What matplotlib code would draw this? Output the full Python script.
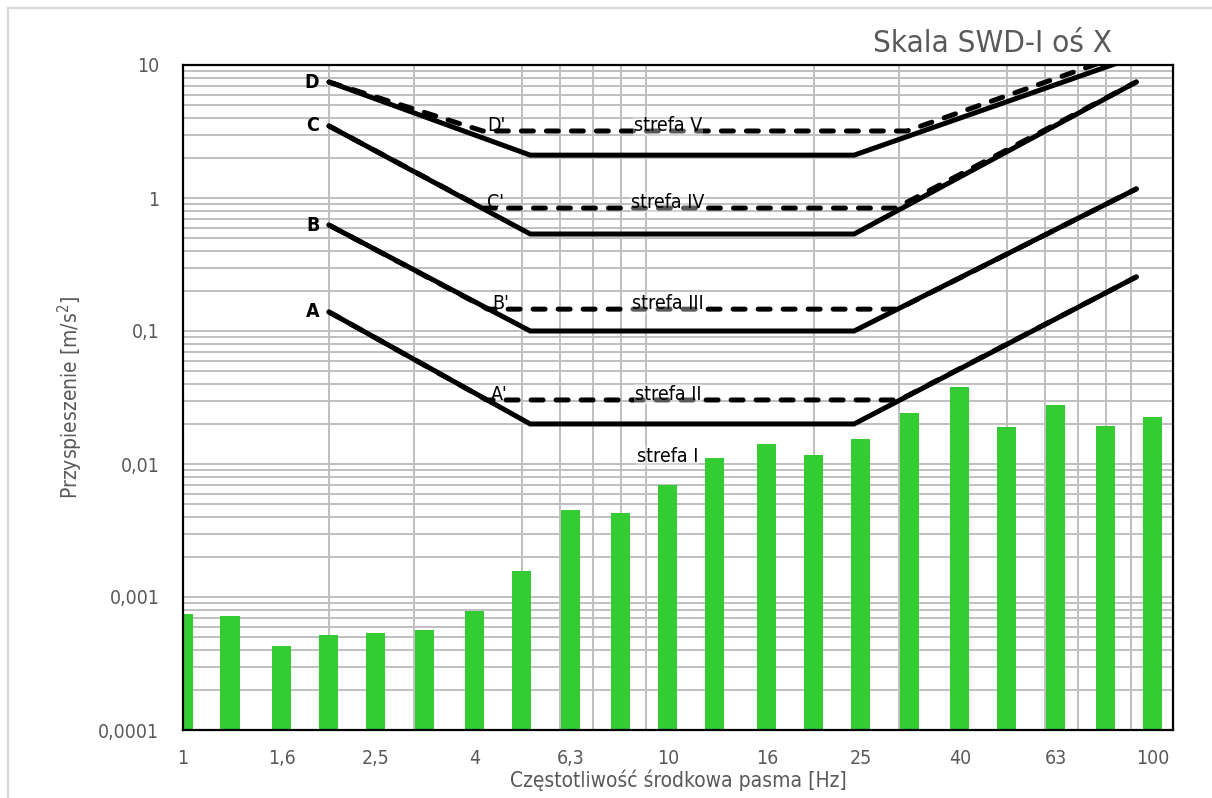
import numpy as np
import matplotlib
matplotlib.use('Agg')
import matplotlib.pyplot as plt
from matplotlib.ticker import FixedLocator, LogLocator, NullFormatter
from matplotlib.patches import Rectangle

# pasma tercjowe [Hz] i zmierzone przyspieszenia [m/s2]
pasma = [1, 1.25, 1.6, 2, 2.5, 3.15, 4, 5, 6.3, 8, 10, 12.5, 16, 20, 25, 31.5,
         40, 50, 63, 80, 100]
przyspieszenie = [7.3e-4, 7.1e-4, 4.2e-4, 5.1e-4, 5.3e-4, 5.5e-4, 7.8e-4,
                  1.57e-3, 4.5e-3, 4.3e-3, 6.9e-3, 0.0111, 0.0141, 0.0117,
                  0.0154, 0.024, 0.038, 0.0191, 0.028, 0.0194, 0.0227]
etykiety_x = ['1', '1,6', '2,5', '4', '6,3', '10', '16', '25', '40', '63', '100']
etykiety_y = ['0,0001', '0,001', '0,01', '0,1', '1', '10']

# granice stref skali SWD-I (linie ciagle)
f_granic = [2.0, 5.2, 24.2, 92.4]
granice = {
    'A': [0.139, 0.020, 0.020, 0.255],
    'B': [0.626, 0.100, 0.100, 1.17],
    'C': [3.48, 0.536, 0.536, 7.45],
    'D': [7.45, 2.10, 2.10, 11.6],
}
# granice posrednie (linie przerywane)
f_posr = {
    "A'": [2.0, 4.23, 30.0, 92.4],
    "B'": [2.0, 4.25, 29.8, 92.4],
    "C'": [2.0, 4.15, 29.5, 92.4],
    "D'": [2.0, 4.15, 31.1, 92.4],
}
posrednie = {
    "A'": [0.139, 0.0303, 0.0303, 0.255],
    "B'": [0.626, 0.146, 0.146, 1.17],
    "C'": [3.48, 0.84, 0.84, 7.45],
    "D'": [7.45, 3.19, 3.19, 12.96],
}
strefy = ['strefa I', 'strefa II', 'strefa III', 'strefa IV', 'strefa V']
strefy_y = [0.0104, 0.0303, 0.146, 0.84, 3.19]

plt.rcParams['font.family'] = ['DejaVu Sans']
plt.rcParams['font.stretch'] = 'condensed'

szary = '#595959'
fig = plt.figure(figsize=(12.12, 7.98), dpi=100)
ax = fig.add_axes([183 / 1212, 1 - 730 / 798, 990 / 1212, 665 / 798])

ax.set_xscale('log')
ax.set_yscale('log')
ax.set_xlim(1, 110)
ax.set_ylim(1e-4, 10)

# slupki o stalej szerokosci w skali logarytmicznej
k = 10 ** 0.0196
lewe = [f / k for f in pasma]
szer = [f * k - f / k for f in pasma]
ax.bar(lewe, przyspieszenie, width=szer, align='edge', bottom=1e-5,
       color='#33cc33', zorder=2)

for nazwa, y in granice.items():
    ax.plot(f_granic, y, color='black', lw=3.6, solid_capstyle='round',
            solid_joinstyle='miter', zorder=3)
    ax.annotate(nazwa, (f_granic[0], y[0]), xytext=(-7, 0),
                textcoords='offset points', ha='right', va='center',
                fontsize=14, fontweight='bold', color='black')

for nazwa, y in posrednie.items():
    ax.plot(f_posr[nazwa], y, color='black', lw=3.6, ls=(0, (2.4, 2.6)),
            dash_capstyle='round', zorder=3)
    ax.annotate(nazwa, (f_posr[nazwa][1], y[1]), xytext=(3, 0),
                textcoords='offset points', ha='left', va='baseline',
                fontsize=14, color='black', zorder=4)

for tekst, y in zip(strefy, strefy_y):
    ax.text(10, y, tekst, ha='center', va='baseline', fontsize=14,
            color='black', zorder=4,
            bbox=dict(facecolor='white', alpha=0.35, edgecolor='none', pad=0.5))

# osie i siatka
ax.xaxis.set_major_locator(FixedLocator(pasma[::2]))
ax.set_xticklabels(etykiety_x)
ax.xaxis.set_minor_locator(LogLocator(base=10, subs=np.arange(1, 10), numticks=50))
ax.xaxis.set_minor_formatter(NullFormatter())
ax.yaxis.set_major_locator(FixedLocator([1e-4, 1e-3, 1e-2, 1e-1, 1, 10]))
ax.set_yticklabels(etykiety_y)
ax.yaxis.set_minor_locator(LogLocator(base=10, subs=np.arange(2, 10), numticks=50))
ax.yaxis.set_minor_formatter(NullFormatter())
ax.tick_params(which='both', length=0, labelsize=14, labelcolor=szary)
ax.tick_params(axis='x', pad=14)
ax.tick_params(axis='y', pad=17)

ax.set_axisbelow(True)
ax.grid(which='minor', axis='x', color='#bfbfbf', lw=1.4)
ax.grid(which='both', axis='y', color='#bfbfbf', lw=1.4)
for s in ax.spines.values():
    s.set_color('black')
    s.set_linewidth(1.6)

ax.set_xlabel('Częstotliwość środkowa pasma [Hz]', fontsize=15, color=szary,
              labelpad=1)
ax.set_ylabel('Przyspieszenie [m/s$^2$]', fontsize=15, color=szary)
ax.yaxis.label.set_va('center')
ax.yaxis.set_label_coords((70 - 183) / 990, 0.5)

fig.text(993 / 1212, 1 - 43 / 798, 'Skala SWD-I oś X', fontsize=22.5,
         color=szary, ha='center', va='center')

fig.patches.append(Rectangle((8 / 1212, -0.1), 1.2, 1 - 8 / 798 + 0.1,
                             transform=fig.transFigure, fill=False,
                             edgecolor='#d9d9d9', lw=1.6))

fig.savefig('out.png', dpi=100)
